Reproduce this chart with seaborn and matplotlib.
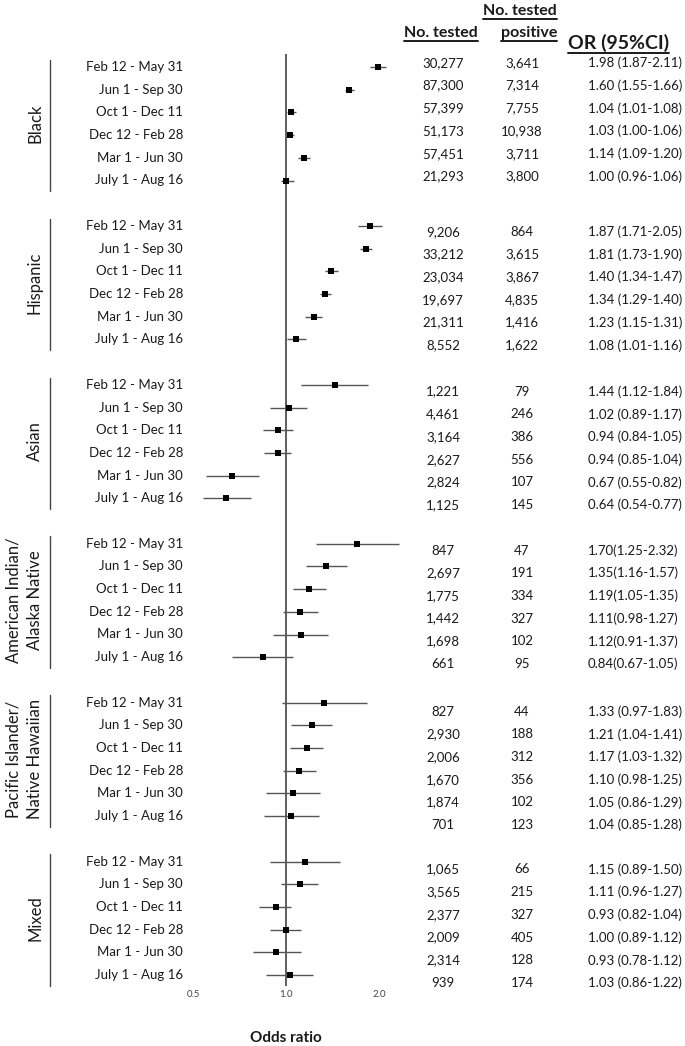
import matplotlib
matplotlib.use("Agg")
import matplotlib.pyplot as plt
import matplotlib.transforms as mtransforms
from matplotlib.lines import Line2D
import numpy as np
import pandas as pd
import seaborn as sns

groups = ["Black", "Hispanic", "Asian", "American Indian/\nAlaska Native",
          "Pacific Islander/\nNative Hawaiian", "Mixed"]
periods = ["Feb 12 - May 31", "Jun 1 - Sep 30", "Oct 1 - Dec 11",
           "Dec 12 - Feb 28", "Mar 1 - Jun 30", "July 1 - Aug 16"]

tested = [[30277, 87300, 57399, 51173, 57451, 21293],
          [9206, 33212, 23034, 19697, 21311, 8552],
          [1221, 4461, 3164, 2627, 2824, 1125],
          [847, 2697, 1775, 1442, 1698, 661],
          [827, 2930, 2006, 1670, 1874, 701],
          [1065, 3565, 2377, 2009, 2314, 939]]
positive = [[3641, 7314, 7755, 10938, 3711, 3800],
            [864, 3615, 3867, 4835, 1416, 1622],
            [79, 246, 386, 556, 107, 145],
            [47, 191, 334, 327, 102, 95],
            [44, 188, 312, 356, 102, 123],
            [66, 215, 327, 405, 128, 174]]
odds = [[1.98, 1.60, 1.04, 1.03, 1.14, 1.00],
        [1.87, 1.81, 1.40, 1.34, 1.23, 1.08],
        [1.44, 1.02, 0.94, 0.94, 0.67, 0.64],
        [1.70, 1.35, 1.19, 1.11, 1.12, 0.84],
        [1.33, 1.21, 1.17, 1.10, 1.05, 1.04],
        [1.15, 1.11, 0.93, 1.00, 0.93, 1.03]]
ci_low = [[1.87, 1.55, 1.01, 1.00, 1.09, 0.96],
          [1.71, 1.73, 1.34, 1.29, 1.15, 1.01],
          [1.12, 0.89, 0.84, 0.85, 0.55, 0.54],
          [1.25, 1.16, 1.05, 0.98, 0.91, 0.67],
          [0.97, 1.04, 1.03, 0.98, 0.86, 0.85],
          [0.89, 0.96, 0.82, 0.89, 0.78, 0.86]]
ci_high = [[2.11, 1.66, 1.08, 1.06, 1.20, 1.06],
           [2.05, 1.90, 1.47, 1.40, 1.31, 1.16],
           [1.84, 1.17, 1.05, 1.04, 0.82, 0.77],
           [2.32, 1.57, 1.35, 1.27, 1.37, 1.05],
           [1.83, 1.41, 1.32, 1.25, 1.29, 1.28],
           [1.50, 1.27, 1.04, 1.12, 1.12, 1.22]]
or_sep = [" ", " ", " ", "", " ", " "]
xticks = [0.5, 1.0, 2.0]

# layout (pixels of the 685x1046 output)
W, H = 685, 1046
X_ONE, PX_DOUBLE = 286, 93          # x of OR=1 and pixels per doubling
AX_L, AX_R, AX_T, AX_B = 190, 410, 54, 986
ROW0_PX, ROW_PX = 67, 22.7
table_nudge = [-0.18, 0.26, 0.3, 0.3, 0.4, 0.35]

sns.set_style("white")
plt.rcParams["font.family"] = ["Lato", "DejaVu Sans"]
TXT = "#1a1a1a"

rows = []
for g, grp in enumerate(groups):
    for i, per in enumerate(periods):
        rows.append(dict(group=grp, period=per, row=g * 7 + i,
                         tested=tested[g][i], positive=positive[g][i],
                         odds=odds[g][i], lo=ci_low[g][i], hi=ci_high[g][i],
                         ortxt=f"{odds[g][i]:.2f}{or_sep[g]}({ci_low[g][i]:.2f}-{ci_high[g][i]:.2f})",
                         nudge=table_nudge[g]))
df = pd.DataFrame(rows)

fig = plt.figure(figsize=(W / 100, H / 100), dpi=100)
ax = fig.add_axes([AX_L / W, 1 - AX_B / H, (AX_R - AX_L) / W, (AX_B - AX_T) / H])

ax.set_xscale("log")
ax.set_xlim(2 ** ((AX_L - X_ONE) / PX_DOUBLE), 2 ** ((AX_R - X_ONE) / PX_DOUBLE))
ax.set_ylim((AX_B - ROW0_PX) / ROW_PX, (AX_T - ROW0_PX) / ROW_PX)

ax.axvline(1.0, color="#333333", lw=1.1, zorder=1)
ax.hlines(df["row"], df["lo"], df["hi"], color="#555555", lw=1.0, zorder=2)
sns.scatterplot(data=df, x="odds", y="row", marker="s", color="black",
                edgecolor="black", s=25, linewidth=0, ax=ax, legend=False, zorder=3)

for s in ax.spines.values():
    s.set_visible(False)
ax.set_xticks(xticks)
ax.set_xticklabels([f"{t:.1f}" for t in xticks])
ax.xaxis.set_minor_locator(matplotlib.ticker.NullLocator())
ax.tick_params(axis="x", length=0, pad=3, labelsize=7, labelcolor="#444444")
ax.set_yticks([])
ax.set_xlabel("")
ax.set_ylabel("")

# text columns
tr = mtransforms.blended_transform_factory(fig.transFigure, ax.transData)
for _, r in df.iterrows():
    ax.text(183 / W, r["row"], r["period"], transform=tr, ha="right", va="center",
            fontsize=9.5, color=TXT)
    yt = r["row"] + r["nudge"]
    ax.text(443 / W, yt, f"{r['tested']:,}", transform=tr, ha="center", va="center",
            fontsize=9.5, color=TXT)
    ax.text(522 / W, yt, f"{r['positive']:,}", transform=tr, ha="center", va="center",
            fontsize=9.5, color=TXT)
    ax.text(588 / W, yt, r["ortxt"], transform=tr, ha="left", va="center",
            fontsize=9.5, color=TXT)

for g, grp in enumerate(groups):
    top, bot = g * 7, g * 7 + 5
    ax.add_line(Line2D([50 / W, 50 / W], [top - 0.32, bot + 0.47], transform=tr,
                       color="#444444", lw=1.0, clip_on=False))
    ax.text(24 / W if "\n" in grp else 35 / W, (top + bot) / 2, grp, transform=tr,
            rotation=90, ha="center", va="center", multialignment="center",
            fontsize=12, color=TXT, linespacing=1.4)

# headers
hdr = [("No. tested", 441, 33, "center", 11.5), ("No. tested", 557, 11, "right", 11.5),
       ("positive", 557, 33, "right", 11.5), ("OR (95%CI)", 568, 43, "left", 14)]
htexts = [fig.text(x / W, 1 - y / H, s, ha=ha, va="center", fontsize=fs,
                   fontweight="bold", color=TXT) for s, x, y, ha, fs in hdr]
fig.text(X_ONE / W, 1 - 1038 / H, "Odds ratio", ha="center", va="center",
         fontsize=11, fontweight="bold", color=TXT)

fig.canvas.draw()
rend = fig.canvas.get_renderer()
for t in htexts:
    bb = t.get_window_extent(rend).transformed(fig.transFigure.inverted())
    yl = bb.y0 - 1.0 / H
    fig.add_artist(Line2D([bb.x0, bb.x1], [yl, yl], transform=fig.transFigure,
                          color=TXT, lw=1.4))

fig.savefig("out.png", dpi=100)
